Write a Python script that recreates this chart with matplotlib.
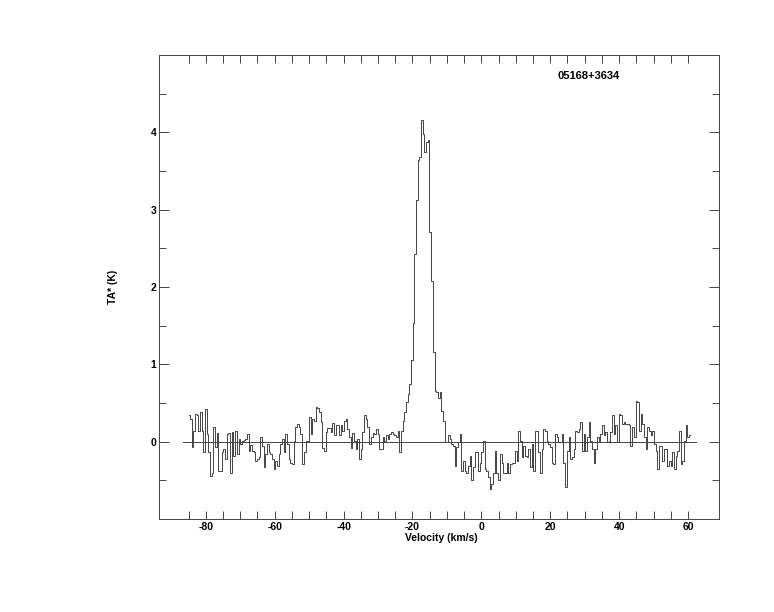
import numpy as np
import matplotlib
matplotlib.use("Agg")
import matplotlib.pyplot as plt
from matplotlib.ticker import FixedLocator

plt.rcParams['font.family'] = ['Liberation Sans', 'DejaVu Sans']
plt.rcParams['font.weight'] = 'bold'
plt.rcParams['axes.unicode_minus'] = False

source_name = "05168+3634"
v_first = -85.1      # km/s, left edge of first channel
v_last = 60.8        # km/s, right edge of last channel

ta_far_blue = [
    0.34, 0.29, -0.07, 0.14, 0.36, 0.35, 0.14, 0.38, 0.14, -0.14,
    0.42, 0.10, -0.14, -0.45, -0.40, 0.19, -0.07, 0.11, -0.38, -0.38,
    -0.14, -0.09, -0.22, 0.10, 0.11, -0.40, 0.12, -0.18, 0.14, -0.16,
    0.03, -0.03, 0.01, 0.02, 0.03, 0.10, -0.12, -0.04, -0.12, -0.14,
    -0.25, -0.22, -0.20, 0.06, -0.05, -0.33, -0.16, -0.03, -0.14, -0.16,
    -0.22, -0.35, -0.25, -0.31, -0.16, -0.03, 0.03, -0.14, 0.10, -0.03,
    -0.22, -0.27, -0.29, 0.01, 0.19, 0.23, 0.19, 0.10, -0.29, -0.14,
    0.01, 0.01]
ta_blue = [
    0.32, 0.10, 0.29, 0.27, 0.45, 0.44, 0.38, 0.26, -0.08, -0.12,
    0.12, 0.18, 0.18, 0.12, 0.24, 0.08, 0.21, 0.21, 0.08, 0.21,
    0.14, 0.27, 0.29, 0.16, 0.06, -0.08, 0.11, 0.01, -0.09, 0.03,
    -0.22, -0.09, 0.12, 0.34, 0.29, 0.19, -0.03, 0.06, 0.11, 0.10,
    0.16, 0.10, -0.09, -0.09, 0.06, 0.01, 0.08, 0.03]
ta_line = [
    0.10, 0.12, 0.10, 0.08, 0.06, 0.14, -0.14, 0.14, 0.27, 0.38,
    0.51, 0.62, 0.75, 1.05, 1.54, 2.43, 3.12, 3.64, 3.68, 4.16,
    3.98, 3.75, 3.88, 3.90, 2.71, 2.08, 1.16, 0.66, 0.64, 0.57,
    0.64, 0.40, 0.27]
ta_red = [
    -0.01, -0.01, 0.08, 0.03, -0.03, -0.05, -0.31, -0.07, -0.01, 0.10,
    -0.38, -0.25, -0.38, -0.40, -0.31, -0.18, -0.50, -0.33, -0.14, -0.14,
    -0.38, -0.27, -0.14, 0.01, -0.35, -0.38, -0.46, -0.61, -0.55, -0.40,
    -0.12, -0.40, -0.50, -0.16, -0.27, -0.40, -0.40, -0.27, -0.40, -0.29,
    -0.27, -0.27, -0.12, -0.25, 0.14, 0.01, -0.20, -0.05, -0.18, -0.20,
    -0.09, -0.33, -0.03, -0.38, 0.14, 0.14, -0.14, -0.40, -0.09, 0.16,
    0.14, 0.01, -0.03, -0.07, -0.27, -0.29, 0.10, 0.06, -0.01]
ta_far_red = [
    -0.01, 0.10, -0.27, -0.59, -0.12, 0.06, -0.22, -0.20, -0.09, 0.14,
    0.12, 0.16, 0.25, -0.12, 0.10, -0.12, 0.06, 0.25, 0.01, -0.09,
    -0.27, -0.09, 0.06, 0.01, 0.10, 0.21, 0.08, 0.12, -0.01, 0.01,
    0.12, 0.34, 0.10, 0.21, -0.01, 0.36, 0.34, 0.23, 0.25, 0.23,
    0.23, 0.21, -0.05, 0.19, 0.06, 0.53, 0.51, 0.14, 0.36, 0.23,
    0.06, -0.09, 0.19, 0.14, 0.08, 0.14, -0.03, -0.12, -0.35, -0.05,
    -0.05, -0.25, -0.09, -0.09, -0.31, -0.25, -0.31, -0.14, -0.35, -0.18,
    -0.12, 0.14, -0.29, -0.25, 0.01, 0.21, 0.06, 0.08]

ta = np.array(ta_far_blue + ta_blue + ta_line + ta_red + ta_far_red)
dv = (v_last - v_first) / len(ta)
vel = v_first + dv * (np.arange(len(ta)) + 0.5)

fig = plt.figure(figsize=(7.74, 6.12), dpi=100)
ax = fig.add_axes([0.2054, 0.152, 0.7236, 0.758])

ax.plot([v_first - 1.5, v_last + 1.5], [0, 0], color='#444444', lw=0.7)
ax.step(vel, ta, where='mid', color='#444444', lw=0.7)

ax.set_xlim(-93.6, 69.0)
ax.set_ylim(-1.0, 5.0)

ax.xaxis.set_major_locator(FixedLocator(np.arange(-80, 61, 20)))
ax.xaxis.set_minor_locator(FixedLocator(np.arange(-85, 61, 5)))
ax.yaxis.set_major_locator(FixedLocator([0, 1, 2, 3, 4]))
ax.yaxis.set_minor_locator(FixedLocator(np.arange(-0.5, 5.0, 1.0)))

ax.tick_params(axis='both', which='both', direction='in', top=True, right=True,
               width=0.7, color='#444444', labelsize=7.5)
ax.tick_params(axis='x', which='both', length=6, pad=2)
ax.tick_params(axis='y', which='major', length=7.5, pad=2)
ax.tick_params(axis='y', which='minor', length=5)
for lab in ax.get_xticklabels() + ax.get_yticklabels():
    lab.set_fontweight('bold')

for sp in ax.spines.values():
    sp.set_color('#444444')
    sp.set_linewidth(0.7)

ax.set_xlabel("Velocity (km/s)", fontsize=7.5, fontweight='bold')
ax.xaxis.set_label_coords(0.504, -0.031)
ax.set_ylabel("TA* (K)", fontsize=7.5, fontweight='bold')
ax.yaxis.set_label_coords(-0.074, 0.5)

ax.text(0.711, 0.955, source_name, transform=ax.transAxes, fontsize=8,
        fontweight='bold', ha='left', va='center')

fig.savefig("out.png", dpi=100, facecolor='white')
